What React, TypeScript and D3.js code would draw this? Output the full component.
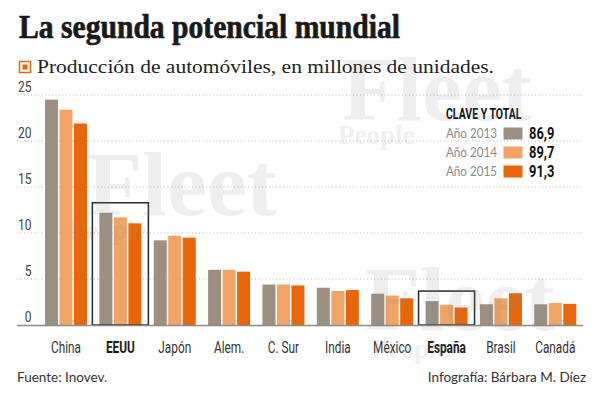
import * as d3 from "d3";
import type { ReactNode } from "react";

// producción de automóviles, millones de unidades
const categories = ["China", "EEUU", "Japón", "Alem.", "C. Sur", "India", "México", "España", "Brasil", "Canadá"];
const years = ["Año 2013", "Año 2014", "Año 2015"];
const v2013 = [24.5, 12.2, 9.2, 6.0, 4.4, 4.05, 3.4, 2.6, 2.25, 2.25];
const v2014 = [23.4, 11.7, 9.7, 6.0, 4.4, 3.7, 3.2, 2.2, 2.9, 2.4];
const v2015 = [21.9, 11.05, 9.5, 5.8, 4.3, 3.8, 2.9, 1.9, 3.45, 2.3];
const totals = ["86,9", "89,7", "91,3"];
const highlighted = ["EEUU", "España"];
const yTicks = [0, 5, 10, 15, 20, 25];

const series = [v2013, v2014, v2015];
const colors = ["#9d9083", "#f2a366", "#ea660a"];

const W = 600;
const H = 394;
const narrow = "Roboto, 'Liberation Sans', sans-serif";
const serif = "'Liberation Serif', 'DejaVu Serif', serif";
const sans = "Lato, 'Open Sans', sans-serif";

const watermarks = [
  { x: 342, y: 120, px: 338, py: 144 },
  { x: 87, y: 215, px: 70, py: 239 },
  { x: 365, y: 330, px: 372, py: 358 },
];

// texto estrecho: Roboto comprimido en horizontal
function Narrow(props: {
  x: number; y: number; sx?: number; anchor?: "start" | "middle" | "end";
  size: number; weight?: number; fill?: string; children: ReactNode;
}) {
  const { x, y, sx = 0.8, anchor = "start", size, weight = 400, fill = "#333", children } = props;
  return (
    <text transform={`translate(${x},${y}) scale(${sx},1)`} textAnchor={anchor} fontFamily={narrow}
      fontSize={size} fontWeight={weight} fill={fill}>
      {children}
    </text>
  );
}

export default function App() {
  const x = d3.scaleBand<string>().domain(categories).range([45, 576.3]).paddingInner(0.227).paddingOuter(0);
  const xs = d3.scaleBand<number>().domain([0, 1, 2]).range([0, x.bandwidth()]).paddingInner(0.103);
  const y = d3.scaleLinear().domain([0, 25]).range([325, 95]);
  const gridX0 = 17;
  const gridX1 = 583;

  return (
    <svg width={W} height={H} style={{ position: "fixed", left: 0, top: 0, background: "#fff" }}>
      {/* titulo */}
      <text x={19} y={38} fontFamily={serif} fontWeight={900} fontSize={34} fill="#1a1a1a"
        stroke="#1a1a1a" strokeWidth={0.7} textLength={381} lengthAdjust="spacingAndGlyphs">
        La segunda potencial mundial
      </text>
      <rect x={19.5} y={61.5} width={11} height={11} fill="none" stroke="#ea660a" strokeWidth={1.5} />
      <rect x={22.5} y={64.5} width={5} height={5} fill="#ea660a" />
      <text x={37} y={73} fontFamily={serif} fontSize={19} fill="#222" textLength={457} lengthAdjust="spacingAndGlyphs">
        Producción de automóviles, en millones de unidades.
      </text>

      {/* rejilla */}
      {yTicks.filter((t) => t > 0).map((t) => (
        <line key={t} x1={gridX0} x2={gridX1} y1={y(t)} y2={y(t)} stroke="#b5b5b5" strokeWidth={1} strokeDasharray="1,2.5" />
      ))}
      {yTicks.map((t) => (
        <Narrow key={t} x={31.5} y={y(t) - 3} anchor="end" size={15.5} fill="#444" sx={0.78}>
          {t}
        </Narrow>
      ))}

      {/* barras */}
      {categories.map((c, i) => (
        <g key={c} transform={`translate(${x(c)},0)`}>
          {series.map((s, k) => (
            <rect key={k} x={xs(k)} y={y(s[i])} width={xs.bandwidth()} height={y(0) - y(s[i])} fill={colors[k]} />
          ))}
        </g>
      ))}

      {/* recuadros destacados */}
      {highlighted.map((c) => {
        const i = categories.indexOf(c);
        const top = y(d3.max(series, (s) => s[i]) as number) - 10;
        return (
          <rect key={c} x={(x(c) as number) - 7} y={top} width={x.bandwidth() + 14} height={y(0) - top}
            fill="none" stroke="#2a2a2a" strokeWidth={1.5} />
        );
      })}

      <line x1={gridX0} x2={gridX1} y1={y(0) + 0.5} y2={y(0) + 0.5} stroke="#8a8a8a" strokeWidth={1.5} />

      {/* etiquetas eje x */}
      {categories.map((c) => (
        <Narrow key={c} x={(x(c) as number) + x.bandwidth() / 2} y={353} anchor="middle" size={16}
          weight={highlighted.includes(c) ? 700 : 400} fill={highlighted.includes(c) ? "#1a1a1a" : "#333"} sx={0.74}>
          {c}
        </Narrow>
      ))}

      {/* leyenda */}
      <Narrow x={446} y={118.5} size={15} weight={700} fill="#111" sx={0.7}>
        CLAVE Y TOTAL
      </Narrow>
      {years.map((yr, k) => (
        <g key={yr} transform={`translate(0,${k * 19})`}>
          <text x={446} y={138} fontFamily={sans} fontSize={13.5} fill="#8a8a8a" textLength={51} lengthAdjust="spacingAndGlyphs">
            {yr}
          </text>
          <rect x={503.5} y={127.5} width={19} height={12} fill={colors[k]} />
          <Narrow x={529} y={138.7} size={16.5} weight={700} fill="#111" sx={0.78}>{totals[k]}</Narrow>
        </g>
      ))}

      {/* marca de agua */}
      {watermarks.map((w, i) => (
        <g key={i} fill="#888" fillOpacity={0.14} fontFamily={serif} fontWeight={700}>
          <text x={w.x} y={w.y} fontSize={90}>Fleet</text>
          <text x={w.px} y={w.py} fontSize={27}>People</text>
        </g>
      ))}

      {/* pie */}
      <text x={17} y={382} fontFamily={sans} fontSize={13.5} fill="#333">Fuente: Inovev.</text>
      <text x={586} y={382} textAnchor="end" fontFamily={sans} fontSize={13.5} fill="#333">Infografía: Bárbara M. Díez</text>
    </svg>
  );
}
